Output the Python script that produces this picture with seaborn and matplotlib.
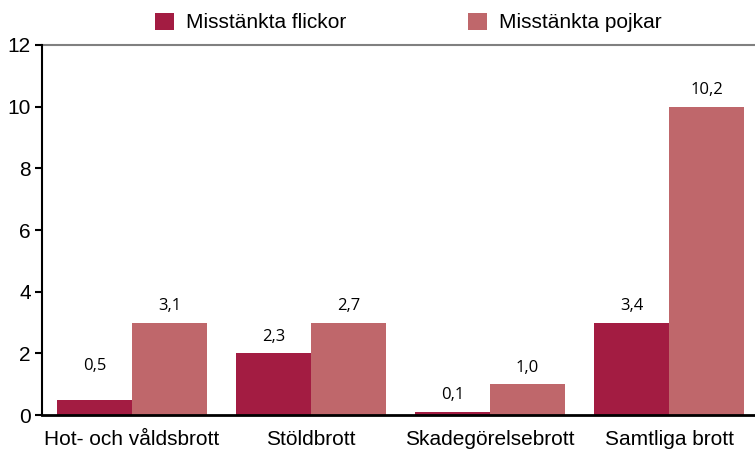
import pandas as pd
import seaborn as sns
import matplotlib.pyplot as plt

# data
kategorier = ["Hot- och våldsbrott", "Stöldbrott", "Skadegörelsebrott", "Samtliga brott"]
flickor = [0.5, 2, 0.1, 3]
pojkar = [3, 3, 1, 10]
flickor_etiketter = ["0,5", "2,3", "0,1", "3,4"]
pojkar_etiketter = ["3,1", "2,7", "1,0", "10,2"]
serier = ["Misstänkta flickor", "Misstänkta pojkar"]

df = pd.DataFrame({
    "kategori": kategorier * 2,
    "serie": [serier[0]] * 4 + [serier[1]] * 4,
    "varde": flickor + pojkar,
})

sns.set_theme(style="white")
plt.rcParams["font.family"] = ["Liberation Sans", "DejaVu Sans"]
plt.rcParams["text.color"] = "black"
plt.rcParams["xtick.color"] = "black"
plt.rcParams["ytick.color"] = "black"

fig = plt.figure(figsize=(7.55, 4.49), dpi=100)
ax = fig.add_axes([0.0556, 0.0757, 0.9444, 0.8241])

sns.barplot(data=df, x="kategori", y="varde", hue="serie", order=kategorier,
            hue_order=serier, palette=["#A31C42", "#BF676B"], width=0.84,
            saturation=1, linewidth=0, ax=ax, errorbar=None)

# värdeetiketter
for cont, etiketter in zip(ax.containers, [flickor_etiketter, pojkar_etiketter]):
    for bar, txt in zip(cont, etiketter):
        extra = 12 if txt == "0,5" else 0
        ax.annotate(txt, (bar.get_x() + bar.get_width() / 2, bar.get_height()),
                    xytext=(0, 12 + extra), textcoords="offset points",
                    ha="center", va="center", fontsize=12, family="Open Sans")

ax.set_ylim(0, 12)
ax.set_yticks([0, 2, 4, 6, 8, 10, 12])
ax.set_xlim(-0.503, 3.48)
ax.set_xlabel("")
ax.set_ylabel("")
ax.axhline(12, color="#808080", lw=1.5, clip_on=False)

for s in ["top", "right"]:
    ax.spines[s].set_visible(False)
ax.spines["left"].set_color("black")
ax.spines["left"].set_linewidth(1.5)
ax.spines["bottom"].set_color("black")
ax.spines["bottom"].set_linewidth(2)
ax.tick_params(axis="y", left=True, length=5, width=1.5, labelsize=15, pad=3)
ax.tick_params(axis="x", bottom=False, labelsize=15, pad=5)

ax.legend(loc="lower center", bbox_to_anchor=(0.514, 1.0), ncol=2, frameon=False,
          fontsize=15, handlelength=0.9, handleheight=0.9, columnspacing=5.85,
          handletextpad=0.6, borderaxespad=0.2)

fig.savefig("out.png", dpi=100)
